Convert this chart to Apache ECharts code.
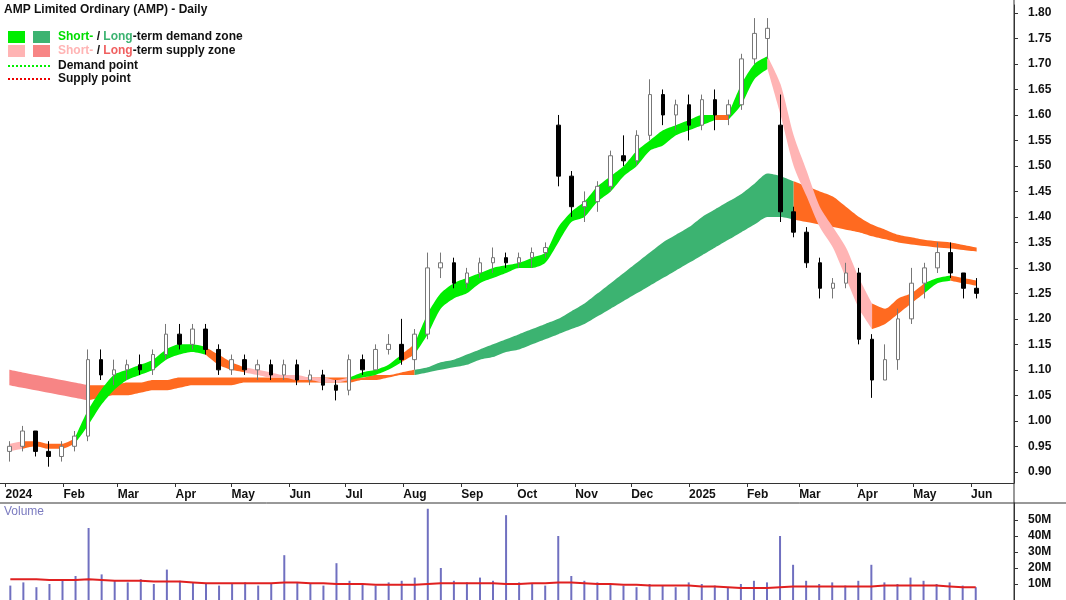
<!DOCTYPE html>
<html><head><meta charset="utf-8">
<script src="https://cdn.jsdelivr.net/npm/echarts@6/dist/echarts.min.js"></script>
<style>html,body{margin:0;padding:0;background:#fff}#c{width:1066px;height:600px}</style>
</head><body><div id="c"></div>
<script>
// Weekly bars (mid-week dates), starting Wed 2024-01-03
const weekStart = '2024-01-03';
const opens  = [0.94,0.95,0.98,0.94,0.93,0.95,0.97,1.12,1.09,1.10,1.11,1.10,1.13,1.17,1.15,1.18,1.14,1.10,1.12,1.10,1.11,1.09,1.11,1.08,1.09,1.07,1.06,1.12,1.10,1.14,1.15,1.12,1.17,1.30,1.31,1.27,1.29,1.31,1.32,1.31,1.32,1.33,1.58,1.48,1.42,1.43,1.46,1.52,1.51,1.56,1.64,1.60,1.62,1.58,1.63,1.60,1.62,1.71,1.75,1.58,1.41,1.37,1.31,1.26,1.27,1.29,1.16,1.08,1.12,1.20,1.27,1.30,1.33,1.29,1.26];
const highs  = [0.96,0.99,0.98,0.96,0.96,0.98,1.14,1.14,1.12,1.12,1.13,1.14,1.19,1.19,1.19,1.19,1.15,1.13,1.13,1.12,1.12,1.12,1.12,1.10,1.10,1.08,1.13,1.13,1.15,1.17,1.20,1.18,1.33,1.33,1.32,1.30,1.32,1.34,1.33,1.33,1.34,1.35,1.60,1.49,1.45,1.47,1.53,1.56,1.57,1.67,1.65,1.63,1.64,1.64,1.65,1.63,1.72,1.79,1.79,1.64,1.42,1.38,1.32,1.28,1.31,1.30,1.17,1.15,1.22,1.30,1.31,1.35,1.35,1.29,1.28];
const lows   = [0.92,0.94,0.93,0.91,0.92,0.94,0.96,1.08,1.07,1.08,1.09,1.09,1.12,1.14,1.14,1.13,1.09,1.09,1.09,1.08,1.08,1.08,1.07,1.07,1.06,1.04,1.05,1.09,1.10,1.13,1.11,1.10,1.16,1.28,1.26,1.26,1.28,1.29,1.30,1.30,1.30,1.32,1.46,1.40,1.39,1.41,1.45,1.50,1.50,1.55,1.58,1.57,1.55,1.57,1.57,1.58,1.61,1.70,1.71,1.39,1.36,1.30,1.24,1.24,1.26,1.15,1.045,1.08,1.10,1.19,1.24,1.29,1.28,1.24,1.24];
const closes = [0.95,0.98,0.94,0.93,0.95,0.97,1.12,1.09,1.10,1.11,1.10,1.13,1.17,1.15,1.18,1.14,1.10,1.12,1.10,1.11,1.09,1.11,1.08,1.09,1.07,1.06,1.12,1.10,1.14,1.15,1.12,1.17,1.30,1.31,1.27,1.29,1.31,1.32,1.31,1.32,1.33,1.34,1.48,1.42,1.43,1.46,1.52,1.51,1.56,1.64,1.60,1.62,1.58,1.63,1.60,1.62,1.71,1.76,1.77,1.41,1.37,1.31,1.26,1.27,1.29,1.16,1.08,1.12,1.20,1.27,1.30,1.33,1.29,1.26,1.25];
const volumes = [9,11,8,10,12,15,45,16,12,11,13,10,19,12,11,10,9,10,11,9,10,28,11,10,9,23,12,10,9,11,12,14,57,20,12,11,14,12,53,11,10,9,40,15,12,11,10,9,8,10,9,8,11,10,9,8,10,12,11,40,22,12,10,11,9,12,22,11,10,14,12,10,11,9,8];
const volumeAvg = [13,13,13,12.5,12.5,12.5,13,12.5,12,12,12,11.5,11.5,11.5,11,10.5,10.5,10.5,10.5,10.5,10.5,11,11,10.5,10.5,10,10,10,9.5,9.5,9.5,9.5,10,10.5,10.5,10.5,10.5,10.5,10,10,10.5,10.5,11,11,10.5,10,10,9.5,9.5,9,9,9,9,8.5,8.5,8,7.5,7.5,7.5,8,8.5,8.5,8.5,8.5,8.5,8.5,8.5,9,9,9,9,9,8.5,8,8];
// short-term zone: lower, upper, code (D demand, S supply, O orange transition)
const shortLow  = [0.94,0.945,0.95,0.945,0.945,0.955,0.99,1.03,1.06,1.08,1.09,1.10,1.12,1.13,1.135,1.13,1.11,1.10,1.095,1.09,1.085,1.085,1.08,1.08,1.075,1.075,1.08,1.085,1.09,1.10,1.115,1.13,1.17,1.22,1.24,1.25,1.27,1.28,1.29,1.30,1.30,1.31,1.35,1.39,1.40,1.43,1.45,1.48,1.50,1.53,1.54,1.56,1.57,1.58,1.59,1.59,1.62,1.67,1.69,1.60,1.50,1.44,1.38,1.34,1.28,1.22,1.18,1.19,1.21,1.23,1.25,1.27,1.275,1.27,1.265];
const shortHigh = [0.955,0.96,0.96,0.955,0.955,0.965,1.02,1.06,1.09,1.10,1.11,1.12,1.14,1.15,1.15,1.145,1.13,1.115,1.105,1.10,1.095,1.09,1.09,1.085,1.085,1.08,1.085,1.095,1.10,1.11,1.13,1.15,1.21,1.25,1.27,1.28,1.29,1.30,1.305,1.31,1.32,1.33,1.38,1.41,1.43,1.46,1.48,1.50,1.53,1.55,1.57,1.58,1.59,1.60,1.60,1.60,1.66,1.70,1.715,1.66,1.56,1.49,1.42,1.38,1.34,1.28,1.23,1.22,1.24,1.25,1.27,1.28,1.285,1.28,1.275];
const shortCode = 'SOOOODDDDDDDDDDOOOSSSSSSSSDDDDODDDDDDDDDDDDDDDDDDDDDDDODDDSSSSSSSSOOOODDOO';
// long-term zone
const longLow  = [1.07,1.065,1.06,1.055,1.05,1.045,1.04,1.045,1.05,1.05,1.055,1.06,1.06,1.065,1.07,1.07,1.07,1.07,1.075,1.075,1.075,1.075,1.075,1.075,1.075,1.075,1.075,1.08,1.08,1.085,1.09,1.09,1.095,1.10,1.105,1.11,1.12,1.125,1.135,1.14,1.15,1.16,1.17,1.18,1.19,1.205,1.22,1.235,1.25,1.265,1.28,1.295,1.31,1.325,1.34,1.355,1.37,1.385,1.40,1.40,1.395,1.39,1.385,1.38,1.375,1.37,1.362,1.356,1.35,1.346,1.343,1.34,1.338,1.335,1.332];
const longHigh = [1.10,1.095,1.09,1.085,1.08,1.075,1.07,1.07,1.07,1.075,1.075,1.08,1.08,1.085,1.085,1.085,1.085,1.085,1.085,1.085,1.085,1.085,1.085,1.085,1.085,1.085,1.085,1.085,1.09,1.09,1.095,1.10,1.105,1.115,1.12,1.13,1.14,1.15,1.16,1.17,1.18,1.19,1.20,1.215,1.23,1.25,1.27,1.29,1.31,1.33,1.35,1.365,1.38,1.40,1.415,1.43,1.445,1.465,1.485,1.48,1.47,1.46,1.45,1.44,1.42,1.40,1.385,1.375,1.365,1.36,1.355,1.352,1.35,1.345,1.34];
const longCode = 'SSSSSSOOOOOOOOOOOOOOOOOOOOOOOOODDDDDDDDDDDDDDDDDDDDDDDDDDDDDOOOOOOOOOOOOOOOO'.slice(0,75);
const priceTicks = [0.90,0.95,1.00,1.05,1.10,1.15,1.20,1.25,1.30,1.35,1.40,1.45,1.50,1.55,1.60,1.65,1.70,1.75,1.80];
const volTicks = [10,20,30,40,50];

const DAY = 86400000;
const t0 = Date.parse(weekStart);
const dates = opens.map((_, i) => t0 + i * 7 * DAY);

const colShort = {D:'#00ee00', S:'#ffb4b4', O:'#ff6a20'};
const colLong  = {D:'#3cb371', S:'#f78585', O:'#ff6a20'};

function bandSeries(low, high, code, cols, name){
  const out = [];
  let i = 0, k = 0;
  while (i < low.length){
    let j = i;
    while (j + 1 < low.length && code[j+1] === code[i]) j++;
    const end = Math.min(j + 1, low.length - 1);
    const base = [], diff = [];
    for (let m = i; m <= end; m++){ base.push([dates[m], low[m]]); diff.push([dates[m], +(high[m]-low[m]).toFixed(4)]); }
    const st = name + k;
    out.push({type:'line', stack:st, data:base, symbol:'none', smooth:0.25, lineStyle:{width:0}, silent:true, z:1});
    out.push({type:'line', stack:st, data:diff, symbol:'none', smooth:0.25, lineStyle:{width:0}, areaStyle:{color:cols[code[i]], opacity:1}, silent:true, z:1});
    k++; i = j + 1;
  }
  return out;
}

const xMin = Date.parse('2023-12-29'), xMax = Date.parse('2025-06-24');
const chart = echarts.init(document.getElementById('c'));
const monthNames = ['Jan','Feb','Mar','Apr','May','Jun','Jul','Aug','Sep','Oct','Nov','Dec'];
const lbl = {fontFamily:'Arial', fontSize:12, color:'#111', fontWeight:'bold'};

chart.setOption({
  animation:false,
  backgroundColor:'#fff',
  grid:[{left:0, right:52, top:5, bottom:117},
        {left:0, right:52, top:503, bottom:0}],
  xAxis:[
    {type:'time', gridIndex:0, min:xMin, max:xMax, splitLine:{show:false},
     axisLine:{show:true, lineStyle:{color:'#333'}}, axisTick:{show:true, length:4, lineStyle:{color:'#333'}},
     minInterval:28*DAY, maxInterval:31*DAY,
     axisLabel:Object.assign({}, lbl, {align:'left', margin:6, formatter:v=>{const d=new Date(v);return d.getUTCMonth()===0?String(d.getUTCFullYear()):monthNames[d.getUTCMonth()];}})},
    {type:'time', gridIndex:1, min:xMin, max:xMax, axisLabel:{show:false}, axisTick:{show:false}, splitLine:{show:false},
     axisLine:{show:false}}
  ],
  yAxis:[
    {type:'value', gridIndex:0, position:'right', min:0.878, max:1.8157, splitLine:{show:false},
     axisLine:{show:true, lineStyle:{color:'#333'}},
     axisTick:{show:true, length:4, customValues:priceTicks, lineStyle:{color:'#333'}},
     axisLabel:Object.assign({}, lbl, {margin:14, customValues:priceTicks, formatter:v=>v.toFixed(2)})},
    {type:'value', gridIndex:1, position:'right', min:0, max:60.6, splitLine:{show:false},
     axisLine:{show:true, lineStyle:{color:'#333'}},
     axisTick:{show:true, length:4, customValues:volTicks, lineStyle:{color:'#333'}},
     axisLabel:Object.assign({}, lbl, {margin:14, customValues:volTicks, formatter:v=>v+'M'})}
  ],
  graphic:[
    {type:'line', shape:{x1:0,y1:503,x2:1066,y2:503}, style:{stroke:'#333', lineWidth:1}},
    {type:'line', shape:{x1:1014,y1:0,x2:1014,y2:600}, style:{stroke:'#333', lineWidth:1}},
    {type:'text', left:4, top:4, style:{text:'AMP Limited Ordinary (AMP) - Daily', font:'bold 12px Arial', fill:'#111'}},
    {type:'rect', shape:{x:8,y:31,width:17,height:12}, style:{fill:'#00ee00'}},
    {type:'rect', shape:{x:33,y:31,width:17,height:12}, style:{fill:'#3cb371'}},
    {type:'rect', shape:{x:8,y:45,width:17,height:12}, style:{fill:'#ffb4b4'}},
    {type:'rect', shape:{x:33,y:45,width:17,height:12}, style:{fill:'#f78585'}},
    {type:'line', shape:{x1:8,y1:66,x2:50,y2:66}, style:{stroke:'#00ee00', lineWidth:2, lineDash:[2,2]}},
    {type:'line', shape:{x1:8,y1:79,x2:50,y2:79}, style:{stroke:'#ee0000', lineWidth:2, lineDash:[2,2]}},
    {type:'text', left:58, top:31, style:{text:'{g|Short-}{k| / }{dg|Long}{k|-term demand zone}',
      rich:{g:{fill:'#00dd00',font:'bold 12px Arial'}, k:{fill:'#111',font:'bold 12px Arial'}, dg:{fill:'#3cb371',font:'bold 12px Arial'}}}},
    {type:'text', left:58, top:45, style:{text:'{p|Short-}{k| / }{r|Long}{k|-term supply zone}',
      rich:{p:{fill:'#ffb4b4',font:'bold 12px Arial'}, k:{fill:'#111',font:'bold 12px Arial'}, r:{fill:'#f06060',font:'bold 12px Arial'}}}},
    {type:'text', left:58, top:60, style:{text:'Demand point', font:'bold 12px Arial', fill:'#111'}},
    {type:'text', left:58, top:73, style:{text:'Supply point', font:'bold 12px Arial', fill:'#111'}},
    {type:'text', left:4, top:506, style:{text:'Volume', font:'12px Arial', fill:'#7b7bc0'}}
  ],
  series:[
    ...bandSeries(longLow, longHigh, longCode, colLong, 'L'),
    ...bandSeries(shortLow, shortHigh, shortCode, colShort, 'S'),
    {type:'candlestick', xAxisIndex:0, yAxisIndex:0, barWidth:4, z:5,
     data:dates.map((d,i)=>[d, opens[i], closes[i], lows[i], highs[i]]),
     itemStyle:{color:'#ffffff', color0:'#000000', borderColor:'#777777', borderColor0:'#000000', borderWidth:1}},
    {type:'bar', xAxisIndex:1, yAxisIndex:1, barWidth:2, data:dates.map((d,i)=>[d, volumes[i]]), itemStyle:{color:'#7070c0'}},
    {type:'line', xAxisIndex:1, yAxisIndex:1, data:dates.map((d,i)=>[d, volumeAvg[i]]), symbol:'none', lineStyle:{color:'#e02020', width:2}}
  ]
});
</script></body></html>
